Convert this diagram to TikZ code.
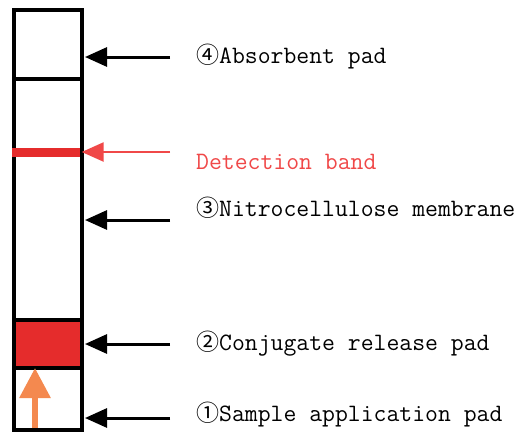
\documentclass[tikz,border=0pt]{standalone}
\usepackage{fontspec}
\newfontfamily\circfont{Noto Sans CJK SC}
\usetikzlibrary{arrows.meta}
\definecolor{bandred}{HTML}{E52C2C}
\definecolor{txtred}{HTML}{F04848}
\definecolor{orng}{HTML}{F4894F}
\newcommand{\circd}[1]{{\fontsize{23}{30}\circfont #1}}
\begin{document}
\begin{tikzpicture}[x=1pt,y=-1pt,
  pad/.style={draw=black, line width=3.5pt, inner sep=0pt, minimum width=68pt, anchor=north west},
  blkarrow/.style={draw=black, line width=3pt, -{Triangle[length=22pt,width=19pt]}, shorten >=1.5pt},
  redarrow/.style={draw=txtred, line width=2.5pt, -{Triangle[length=22pt,width=19pt]}, shorten >=1.5pt},
  lbl/.style={anchor=west, inner sep=0pt, font=\fontsize{25}{30}\selectfont\ttfamily}
]
\useasboundingbox (0,0) rectangle (523,432);
\fill[white] (0,0) rectangle (523,432);
% strip parts
\node[pad, minimum height=69pt] (absorb) at (12,8) {};
\node[pad, minimum height=241pt] (membrane) at (12,77) {};
\node[pad, minimum height=48pt, fill=bandred] (conj) at (12,318) {};
\node[pad, minimum height=62pt] (sample) at (12,366) {};
% detection band
\node[fill=bandred, minimum width=68pt, minimum height=9pt, inner sep=0pt] (band) at (46,152) {};
% orange flow arrow
\coordinate (o1) at (35,428);
\coordinate (o2) at (35,368);
\draw[orng, line width=6pt, -{Triangle[length=30pt,width=30pt]}] (o1) -- (o2);
% arrow start points
\coordinate (s4) at (170,57);
\coordinate (sd) at (170,152);
\coordinate (s3) at (170,220);
\coordinate (s2) at (170,344);
\coordinate (s1) at (170,418);
\draw[blkarrow] (s4) -- (absorb.east |- s4);
\draw[redarrow] (sd) -- (band.east |- sd);
\draw[blkarrow] (s3) -- (membrane.east |- s3);
\draw[blkarrow] (s2) -- (conj.east |- s2);
\draw[blkarrow] (s1) -- (sample.east |- s1);
% labels
\node[lbl] (t4) at (196,57) {\circd{④}Absorbent pad};
\node[lbl, text=txtred] (td) at (196,162) {Detection band};
\node[lbl] (t3) at (196,208) {\circd{③}Nitrocellulose membrane};
\node[lbl] (t2) at (196,344) {\circd{②}Conjugate release pad};
\node[lbl] (t1) at (196,415) {\circd{①}Sample application pad};
\end{tikzpicture}
\end{document}
